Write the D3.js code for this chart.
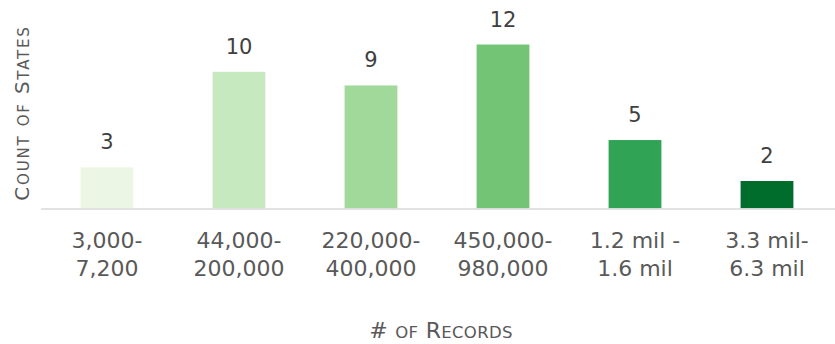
<!DOCTYPE html>
<html><head><meta charset="utf-8">
<script src="https://cdn.jsdelivr.net/npm/d3@7"></script>
<style>body{margin:0;background:#fff}svg{display:block}</style>
</head><body><svg id="c" width="835" height="344"></svg>
<script>
const categories = [["3,000-","7,200"],["44,000-","200,000"],["220,000-","400,000"],["450,000-","980,000"],["1.2 mil -","1.6 mil"],["3.3 mil-","6.3 mil"]];
const counts = [3,10,9,12,5,2];
const colors = ["#ebf6e5","#c7e9c0","#a1d99b","#74c476","#31a354","#006d2c"];
const yTitle = "Count of States";
const xTitle = "# of Records";

const svg = d3.select("#c");
const font = "'DejaVu Sans', sans-serif";
const textColor = "#595959";
const x = d3.scaleBand().domain(d3.range(categories.length)).range([41, 833]).paddingInner(0.6).paddingOuter(0.3);
const y = d3.scaleLinear().domain([0, 14]).range([208.3, 208.3 - 14*13.65]);

svg.selectAll("rect.bar").data(counts).join("rect").attr("class","bar")
  .attr("x",(d,i)=>x(i)).attr("width",x.bandwidth())
  .attr("y",d=>y(d)).attr("height",d=>y(0)-y(d))
  .attr("fill",(d,i)=>colors[i]);

svg.append("line").attr("x1",41).attr("x2",835).attr("y1",y(0)+0.7).attr("y2",y(0)+0.7)
  .attr("stroke","#d9d9d9").attr("stroke-width",1.5);

svg.selectAll("text.val").data(counts).join("text").attr("class","val")
  .attr("x",(d,i)=>x(i)+x.bandwidth()/2).attr("y",d=>y(d)-18)
  .attr("text-anchor","middle").attr("font-family",font).attr("font-size",21)
  .attr("fill","#404040").text(d=>d);

const cat = svg.selectAll("text.cat").data(categories).join("text").attr("class","cat")
  .attr("text-anchor","middle").attr("font-family",font).attr("font-size",22).attr("fill",textColor);
cat.each(function(d,i){
  const t = d3.select(this);
  d.forEach((line,j)=>{
    t.append("tspan").attr("x",x(i)+x.bandwidth()/2).attr("y",248+j*28).text(line);
  });
});

function smallCaps(t, str, big, small){
  const parts = str.match(/([^a-z]+|[a-z]+)/g);
  parts.forEach(p=>{
    const lower = /^[a-z]+$/.test(p);
    t.append("tspan").attr("font-size", lower ? small : big).text(p.toUpperCase());
  });
}

const xt = svg.append("text").attr("x",441).attr("y",338).attr("text-anchor","middle")
  .attr("font-family",font).attr("fill",textColor).attr("letter-spacing",0.3);
smallCaps(xt, xTitle, 22, 16.5);

const yt = svg.append("text").attr("transform","translate(29,113) rotate(-90)").attr("text-anchor","middle")
  .attr("font-family",font).attr("fill",textColor).attr("letter-spacing",1.8);
smallCaps(yt, yTitle, 20, 15);
</script></body></html>
